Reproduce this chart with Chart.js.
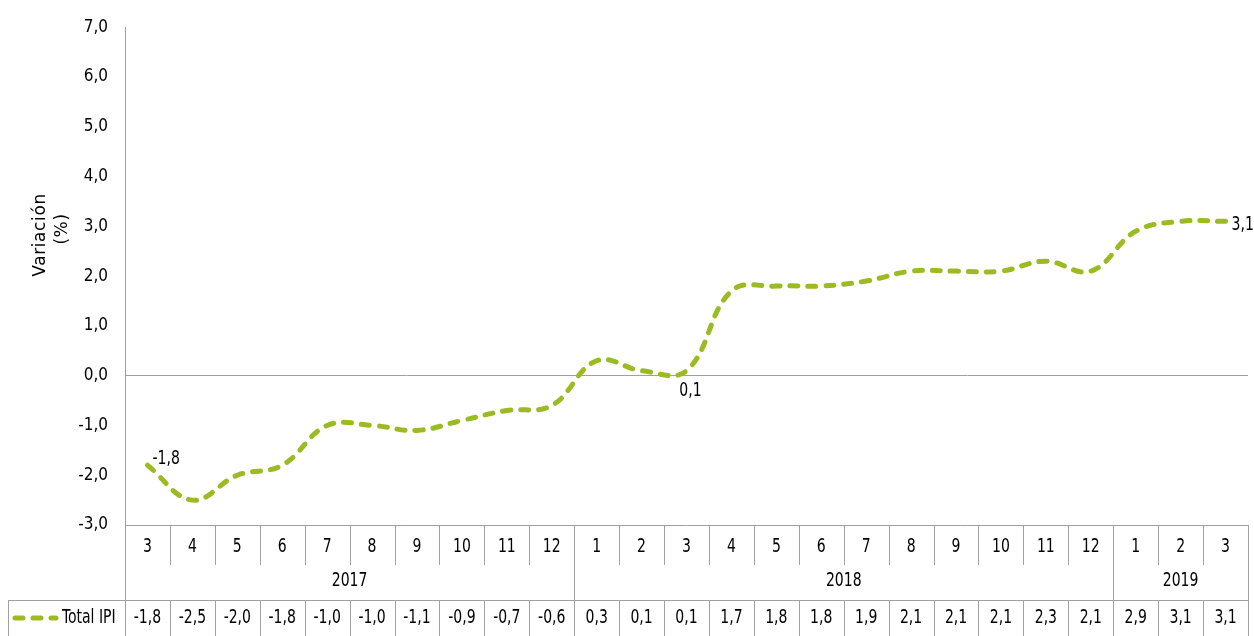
<!DOCTYPE html>
<html>
<head>
<meta charset="utf-8">
<script src="https://cdn.jsdelivr.net/npm/chart.js@4/dist/chart.umd.min.js"></script>
<style>
  html, body { margin: 0; padding: 0; background: #fff; }
  #wrap { width: 1254px; height: 636px; position: relative; }
</style>
</head>
<body>
<div id="wrap"><canvas id="chart"></canvas></div>
<script>
// datos del gráfico
const months = ["3","4","5","6","7","8","9","10","11","12","1","2","3","4","5","6","7","8","9","10","11","12","1","2","3"];
const years = ["2017", "2018", "2019"];
const yearSpans = [10, 12, 3]; // número de meses por año
const totalIPI = [-1.8, -2.5, -2.0, -1.8, -1.0, -1.0, -1.1, -0.9, -0.7, -0.6, 0.3, 0.1, 0.1, 1.7, 1.8, 1.8, 1.9, 2.1, 2.1, 2.1, 2.3, 2.1, 2.9, 3.1, 3.1];
const labelIdx = [0, 12, 24];
const yTicks = [-3, -2, -1, 0, 1, 2, 3, 4, 5, 6, 7];

const GREEN = "#9bbb22";
const GREY = "#a0a0a0";
const NUM_FONT = "normal condensed 19px 'DejaVu Sans', sans-serif";

const fmt = v => v.toFixed(1).replace(".", ",");

// texto estrecho (parecido a Calibri)
function txt(ctx, s, x, y, align) {
  ctx.save();
  ctx.font = NUM_FONT;
  if ("fontStretch" in ctx) ctx.fontStretch = "condensed";
  ctx.textAlign = align || "center";
  ctx.textBaseline = "middle";
  ctx.translate(x, y);
  ctx.scale(0.82, 1);
  ctx.fillText(s, 0, 0);
  ctx.restore();
}

// tabla de datos bajo el eje
const tablePlugin = {
  id: "dataTable",
  afterDraw(chart) {
    const ctx = chart.ctx;
    const x = chart.scales.x;
    const area = chart.chartArea;
    const top = area.bottom;
    const row1 = top + 40, row2 = top + 75, bottom = 636;
    const step = x.getPixelForValue(1) - x.getPixelForValue(0);
    const edge = i => x.getPixelForValue(i) - step / 2;

    ctx.save();
    ctx.strokeStyle = GREY;
    ctx.lineWidth = 1;
    ctx.beginPath();
    // eje izquierdo prolongado
    ctx.moveTo(area.left + 0.5, top); ctx.lineTo(area.left + 0.5, bottom);
    // línea inferior del área
    ctx.moveTo(area.left, top + 0.5); ctx.lineTo(area.right, top + 0.5);
    // separadores de meses
    for (let i = 1; i < months.length; i++) {
      const px = Math.round(edge(i)) + 0.5;
      ctx.moveTo(px, top); ctx.lineTo(px, row1);
      ctx.moveTo(px, row2); ctx.lineTo(px, bottom);
    }
    // separadores de años
    let acc = 0;
    yearSpans.forEach(n => {
      acc += n;
      const px = Math.round(edge(acc)) + 0.5;
      ctx.moveTo(px, top); ctx.lineTo(px, bottom);
    });
    // fila de datos
    ctx.moveTo(8, row2 + 0.5); ctx.lineTo(area.right, row2 + 0.5);
    ctx.moveTo(8.5, row2); ctx.lineTo(8.5, bottom);
    ctx.stroke();

    ctx.fillStyle = "#000";
    months.forEach((m, i) => txt(ctx, m, x.getPixelForValue(i), top + 22));
    acc = 0;
    years.forEach((y, k) => {
      const mid = (edge(acc) + edge(acc + yearSpans[k])) / 2;
      txt(ctx, y, mid, top + 56);
      acc += yearSpans[k];
    });
    totalIPI.forEach((v, i) => txt(ctx, fmt(v), x.getPixelForValue(i), row2 + 18));

    // leyenda
    ctx.strokeStyle = GREEN;
    ctx.lineWidth = 5;
    ctx.lineCap = "round";
    ctx.setLineDash([8, 10]);
    ctx.beginPath();
    ctx.moveTo(15, row2 + 18); ctx.lineTo(56, row2 + 18);
    ctx.stroke();
    ctx.setLineDash([]);
    txt(ctx, "Total IPI", 62, row2 + 18, "left");

    // etiquetas de datos
    const pts = chart.getDatasetMeta(0).data;
    labelIdx.forEach(i => {
      const p = pts[i];
      if (i === 12) {
        txt(ctx, fmt(totalIPI[i]), p.x + 4, p.y + 20, "center");
      } else if (i === 0) {
        txt(ctx, fmt(totalIPI[i]), p.x + 5, p.y - 6, "left");
      } else {
        txt(ctx, fmt(totalIPI[i]), p.x + 6, p.y + 4, "left");
      }
    });

    // título del eje Y
    ctx.save();
    ctx.font = "17px 'DejaVu Sans', sans-serif";
    if ("letterSpacing" in ctx) ctx.letterSpacing = "0.6px";
    ctx.rotate(-Math.PI / 2);
    ctx.textAlign = "center";
    ctx.textBaseline = "alphabetic";
    ctx.fillText("Variación", -235, 45);
    ctx.fillText("(%)", -229, 67);
    ctx.restore();

    ctx.restore();
  }
};

new Chart(document.getElementById("chart"), {
  type: "line",
  data: {
    labels: months,
    datasets: [{
      label: "Total IPI",
      data: totalIPI,
      borderColor: GREEN,
      borderWidth: 5,
      borderDash: [8, 10],
      borderCapStyle: "round",
      pointRadius: 0,
      tension: 0.4,
      fill: false
    }]
  },
  options: {
    responsive: true,
    maintainAspectRatio: false,
    animation: false,
    layout: { padding: { top: 25, right: 6, bottom: 111, left: 0 } },
    plugins: { legend: { display: false }, tooltip: { enabled: false } },
    scales: {
      x: {
        display: false,
        offset: true
      },
      y: {
        min: -3,
        max: 7,
        afterBuildTicks: s => { s.ticks = yTicks.map(v => ({ value: v })); },
        afterFit: s => { s.width = 125; },
        border: { display: true, color: GREY },
        grid: {
          drawTicks: false,
          color: c => c.tick && c.tick.value === 0 ? GREY : "rgba(0,0,0,0)"
        },
        ticks: {
          padding: 17,
          color: "#000",
          font: { family: "'DejaVu Sans', sans-serif", size: 17, weight: "condensed" },
          callback: v => fmt(v)
        }
      }
    }
  },
  plugins: [tablePlugin]
});
</script>
</body>
</html>
